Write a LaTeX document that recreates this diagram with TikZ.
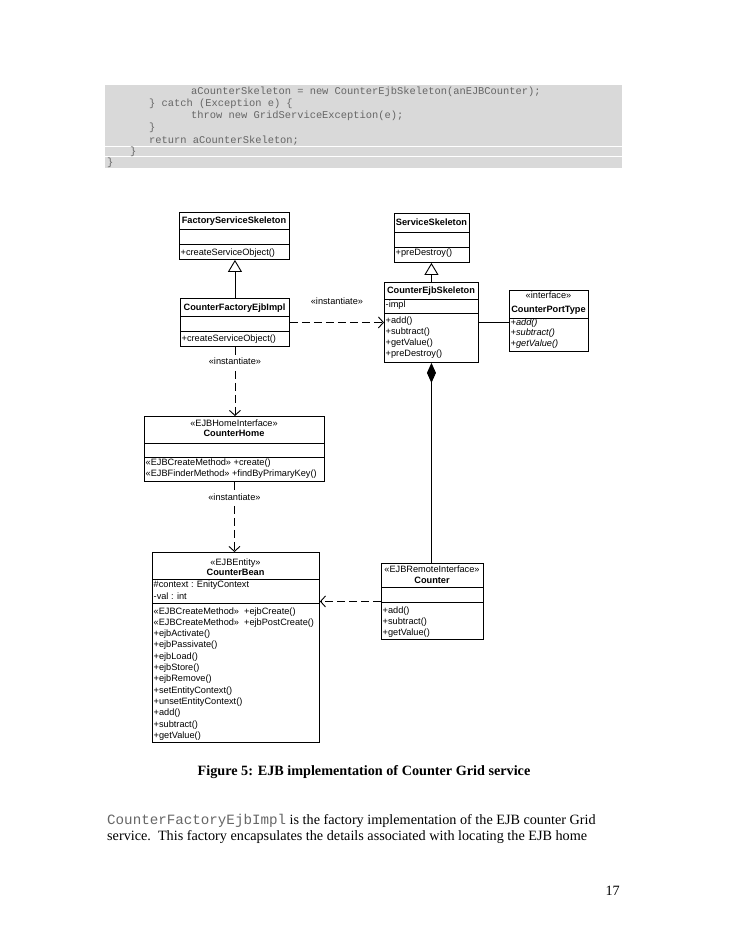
\documentclass[tikz,border=0pt]{standalone}
\usepackage{fontspec}
\setmainfont{Liberation Serif}
\setsansfont{Liberation Sans}
\setmonofont{Liberation Mono}
\usetikzlibrary{arrows.meta,positioning}
\definecolor{codebg}{rgb}{0.85,0.85,0.85}
\definecolor{codegray}{rgb}{0.40,0.40,0.40}

\begin{document}
\begin{tikzpicture}[x=1pt, y=-1pt,
    umlbox/.style={draw, line width=0.9pt, anchor=north west, inner sep=0pt},
    umlline/.style={line width=0.9pt},
    umldash/.style={line width=0.9pt, dash pattern=on 8pt off 4pt},
    umlname/.style={font=\fontsize{9.2}{11}\sffamily\bfseries, anchor=base, inner sep=0pt},
    umlstereo/.style={font=\fontsize{9.2}{11}\sffamily, anchor=base, inner sep=0pt},
    umltext/.style={font=\fontsize{9.2}{11}\sffamily, anchor=base west, inner sep=0pt},
    umllabel/.style={font=\fontsize{9.2}{11}\sffamily, inner sep=0pt},
    code/.style={font=\fontsize{10.4}{12}\ttfamily, text=codegray, anchor=base west, inner sep=0pt},
    bodytext/.style={font=\fontsize{14.2}{16.5}\selectfont, anchor=base west, inner sep=0pt}]
    \useasboundingbox (0,0) rectangle (728,942);
    % Code listing
    \fill[codebg] (105,85) rectangle (622,168);
    \draw[white, line width=0.9pt] (105,146.5) -- (622,146.5);
    \draw[white, line width=0.9pt] (105,156.5) -- (622,156.5);
    \node[code] (code1) at (191,94.5) {aCounterSkeleton = new CounterEjbSkeleton(anEJBCounter);};
    \node[code] (code2) at (149,106.5) {\} catch (Exception e) \{};
    \node[code] (code3) at (191,118.5) {throw new GridServiceException(e);};
    \node[code] (code4) at (149,130.5) {\}};
    \node[code] (code5) at (149,143.5) {return aCounterSkeleton;};
    \node[code] (code6) at (130,154.5) {\}};
    \node[code] (code7) at (107,165.5) {\}};
    % FactoryServiceSkeleton
    \node[umlbox, minimum width=110pt, minimum height=47pt] (fss) at (179,212) {};
    \draw[umlline] (179,229) -- (289,229);
    \draw[umlline] (179,244) -- (289,244);
    \node[umlname] (fss-name) at (234,223.5) {FactoryServiceSkeleton};
    \node[umltext] (fss-op1) at (180.5,255) {+createServiceObject()};
    % ServiceSkeleton
    \node[umlbox, minimum width=75pt, minimum height=49pt] (ss) at (394,213) {};
    \draw[umlline] (394,232) -- (469,232);
    \draw[umlline] (394,247) -- (469,247);
    \node[umlname] (ss-name) at (431.5,225.6) {ServiceSkeleton};
    \node[umltext] (ss-op1) at (395.5,255.6) {+preDestroy()};
    % CounterFactoryEjbImpl
    \node[umlbox, minimum width=109pt, minimum height=48pt] (cfei) at (180,298) {};
    \draw[umlline] (180,316) -- (289,316);
    \draw[umlline] (180,331.7) -- (289,331.7);
    \node[umlname] (cfei-name) at (234.5,310.3) {CounterFactoryEjbImpl};
    \node[umltext] (cfei-op1) at (181.5,341) {+createServiceObject()};
    % CounterEjbSkeleton
    \node[umlbox, minimum width=94pt, minimum height=80pt] (ces) at (384,282) {};
    \draw[umlline] (384,299) -- (478,299);
    \draw[umlline] (384,313) -- (478,313);
    \node[umlname] (ces-name) at (431,293.3) {CounterEjbSkeleton};
    \node[umltext] (ces-att1) at (385.5,307.6) {-impl};
    \foreach \m [count=\i] in {+add(), +subtract(), +getValue(), +preDestroy()}
        \node[umltext] (ces-op\i) at (385.5,{323.3+11*(\i-1)}) {\m};
    % CounterPortType
    \node[umlbox, minimum width=79pt, minimum height=61pt] (cpt) at (509,290) {};
    \draw[umlline] (509,318.3) -- (588,318.3);
    \node[umlstereo] (cpt-st) at (548.5,298.3) {«interface»};
    \node[umlname] (cpt-name) at (548.5,312.3) {CounterPortType};
    \foreach \m [count=\i] in {add(), subtract(), getValue()}
        \node[umltext, font=\fontsize{9.2}{11}\sffamily\itshape] (cpt-op\i) at (510.5,{325+10.8*(\i-1)}) {+\m};
    % CounterHome
    \node[umlbox, minimum width=180pt, minimum height=65pt] (ch) at (144,416) {};
    \draw[umlline] (144,443) -- (324,443);
    \draw[umlline] (144,457) -- (324,457);
    \node[umlstereo] (ch-st) at (234,426.6) {«EJBHomeInterface»};
    \node[umlname] (ch-name) at (234,436.6) {CounterHome};
    \node[umltext] (ch-op1) at (145.5,465.6) {«EJBCreateMethod» +create()};
    \node[umltext] (ch-op2) at (145.5,476) {«EJBFinderMethod» +findByPrimaryKey()};
    % CounterBean
    \node[umlbox, minimum width=167pt, minimum height=190pt] (cb) at (152,552) {};
    \draw[umlline] (152,579) -- (319,579);
    \draw[umlline] (152,603.3) -- (319,603.3);
    \node[umlstereo] (cb-st) at (235.5,565) {«EJBEntity»};
    \node[umlname] (cb-name) at (235.5,575) {CounterBean};
    \node[umltext] (cb-att1) at (153.5,587.6) {\#context : EnityContext};
    \node[umltext] (cb-att2) at (153.5,599.3) {-val : int};
    \foreach \m [count=\i] in {«EJBCreateMethod»\ \ +ejbCreate(), «EJBCreateMethod»\ \ +ejbPostCreate(),
        +ejbActivate(), +ejbPassivate(), +ejbLoad(), +ejbStore(), +ejbRemove(),
        +setEntityContext(), +unsetEntityContext(), +add(), +subtract(), +getValue()}
        \node[umltext] (cb-op\i) at (153.5,{614+11.32*(\i-1)}) {\m};
    % Counter
    \node[umlbox, minimum width=102pt, minimum height=76pt] (cnt) at (381,563) {};
    \draw[umlline] (381,587) -- (483,587);
    \draw[umlline] (381,602) -- (483,602);
    \node[umlstereo] (cnt-st) at (432,572.6) {«EJBRemoteInterface»};
    \node[umlname] (cnt-name) at (432,583.3) {Counter};
    \foreach \m [count=\i] in {+add(), +subtract(), +getValue()}
        \node[umltext] (cnt-op\i) at (382.5,{613.3+10.9*(\i-1)}) {\m};
    % Connectors
    \draw[umlline, -{Triangle[length=12pt, width=14pt, fill=white]}] (cfei.north) -- (cfei.north |- fss.south);
    \draw[umlline, -{Triangle[length=12pt, width=14pt, fill=white]}] (ces.north) -- (ces.north |- ss.south);
    \draw[umldash, -{Straight Barb[length=5pt, width=11pt]}] (cfei.east) -- (cfei.east -| ces.west)
        node[umllabel, midway, above=17.5pt] (inst1) {«instantiate»};
    \draw[umlline] (ces.east) -- (ces.east -| cpt.west);
    \draw[umldash, -{Straight Barb[length=5pt, width=11pt]}] (cfei.south) -- (cfei.south |- ch.north)
        node[umllabel, pos=0.21, fill=white, inner sep=2pt] (inst2) {«instantiate»};
    \draw[umldash, -{Straight Barb[length=5pt, width=11pt]}] (ch.south) -- (ch.south |- cb.north)
        node[umllabel, pos=0.22, fill=white, inner sep=2pt] (inst3) {«instantiate»};
    \draw[umlline, {Diamond[length=20pt, width=9pt]}-] (ces.south) -- (ces.south |- cnt.north);
    \draw[umldash, -{Straight Barb[length=5pt, width=11pt]}] (cnt.west) -- (cnt.west -| cb.east);
    % Caption and text
    \node[bodytext, font=\fontsize{14.2}{16.5}\bfseries, anchor=base] (caption) at (364,775) {Figure 5: EJB implementation of Counter Grid service};
    \node[bodytext] (para1) at (107,824) {\textcolor{codegray}{\ttfamily CounterFactoryEjbImpl} is the factory implementation of the EJB counter Grid};
    \node[bodytext] (para2) at (107,840.5) {service.\ \ This factory encapsulates the details associated with locating the EJB home};
    \node[bodytext, anchor=base east] (pagenum) at (620,895) {17};
\end{tikzpicture}
\end{document}
